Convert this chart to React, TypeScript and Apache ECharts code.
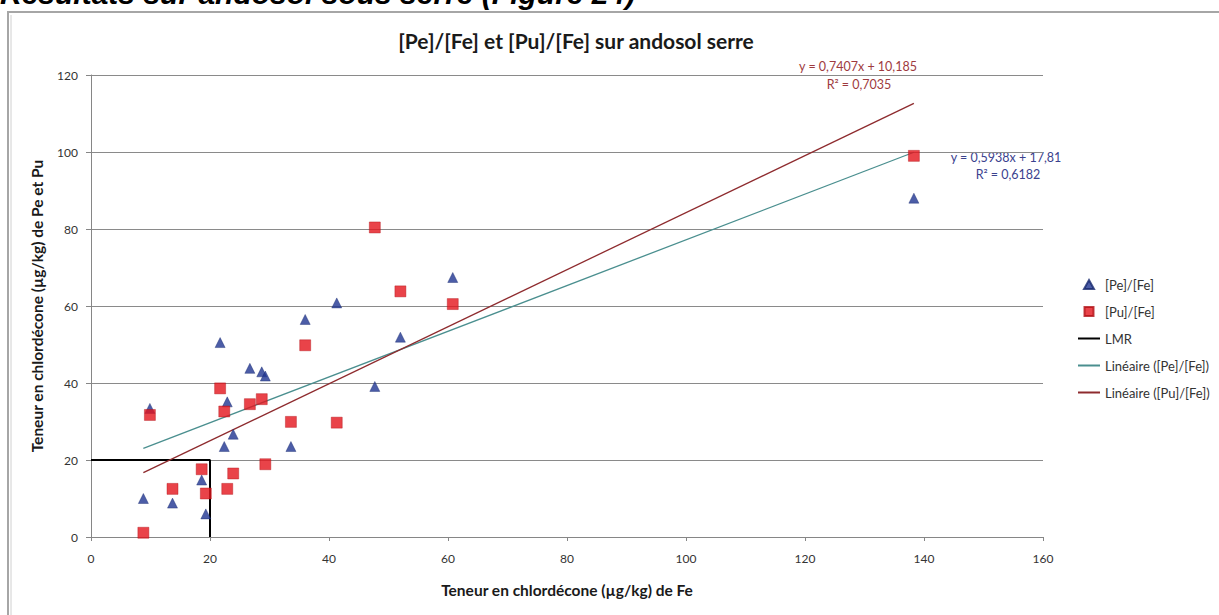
import React, { useEffect, useRef } from "react";
import * as echarts from "echarts";

// Fe content (x) shared by both series
const feValues = [8.8, 9.9, 13.7, 18.6, 19.3, 21.7, 22.4, 22.9, 23.9, 26.7, 28.7, 29.3, 33.6, 36.0, 41.3, 47.7, 52.0, 60.8, 138.3];
// [Pe] values
const peValues = [10.0, 33.4, 8.8, 14.8, 6.0, 50.5, 23.5, 35.1, 26.7, 43.8, 42.9, 41.8, 23.5, 56.5, 60.8, 39.1, 51.9, 67.4, 88.0];
// [Pu] values
const puValues = [1.1, 31.7, 12.5, 17.6, 11.3, 38.6, 32.6, 12.5, 16.5, 34.5, 35.8, 18.9, 29.9, 49.8, 29.7, 80.4, 63.8, 60.5, 99.0];

// LMR limit
const lmrPoints = [[0, 20], [20, 20], [20, 0]];

// Trend line coefficients (from the chart labels)
const peSlope = 0.5938;
const peIntercept = 17.81;
const puSlope = 0.7407;
const puIntercept = 10.185;

const xTicks = [0, 20, 40, 60, 80, 100, 120, 140, 160];
const yTicks = [0, 20, 40, 60, 80, 100, 120];

const titleText = "[Pe]/[Fe] et [Pu]/[Fe] sur andosol serre";
const headingText = "Résultats sur andosol sous serre (Figure 24)";
const xName = "Teneur en chlordécone (µg/kg) de Fe";
const yName = "Teneur en chlordécone (µg/kg) de Pe et Pu";
const peEq = "y = 0,5938x + 17,81";
const peR2 = "R² = 0,6182";
const puEq = "y = 0,7407x + 10,185";
const puR2 = "R² = 0,7035";

const FONT = "Lato, 'Open Sans', sans-serif";

export default function App() {
  const ref = useRef<HTMLDivElement>(null);

  useEffect(() => {
    if (!ref.current) return;
    const chart = echarts.init(ref.current, undefined, { renderer: "svg" });
    const xMin = Math.min(...feValues);
    const xMax = Math.max(...feValues);
    const peData = feValues.map((x, i) => [x, peValues[i]]);
    const puData = feValues.map((x, i) => [x, puValues[i]]);
    const peTrend = [[xMin, peSlope * xMin + peIntercept], [xMax, peSlope * xMax + peIntercept]];
    const puTrend = [[xMin, puSlope * xMin + puIntercept], [xMax, puSlope * xMax + puIntercept]];

    chart.setOption({
      animation: false,
      backgroundColor: "#ffffff",
      textStyle: { fontFamily: FONT },
      grid: { left: 91, right: 176, top: 75, bottom: 78 },
      xAxis: {
        type: "value",
        min: xTicks[0],
        max: xTicks[xTicks.length - 1],
        interval: 20,
        name: xName,
        nameLocation: "middle",
        nameGap: 45,
        nameTextStyle: { fontFamily: FONT, fontSize: 15.5, fontWeight: "bold", color: "#1a1a1a" },
        axisLine: { lineStyle: { color: "#868686", width: 1 } },
        axisTick: { show: true, length: 4, lineStyle: { color: "#868686" } },
        axisLabel: { fontFamily: FONT, fontSize: 12, color: "#333333", margin: 15 },
        splitLine: { show: false },
      },
      yAxis: {
        type: "value",
        min: yTicks[0],
        max: yTicks[yTicks.length - 1],
        interval: 20,
        name: yName,
        nameLocation: "middle",
        nameGap: 46,
        nameRotate: 90,
        nameTextStyle: { fontFamily: FONT, fontSize: 15.5, fontWeight: "bold", color: "#1a1a1a" },
        axisLine: { show: true, lineStyle: { color: "#868686", width: 1 } },
        axisTick: { show: true, length: 5, lineStyle: { color: "#868686" } },
        axisLabel: { fontFamily: FONT, fontSize: 12, color: "#333333", margin: 13 },
        splitLine: { show: true, lineStyle: { color: "#8a8a8a", width: 1 } },
      },
      legend: {
        orient: "vertical",
        left: 1072,
        top: 273,
        itemWidth: 22,
        itemHeight: 9,
        itemGap: 14,
        textStyle: { fontFamily: FONT, fontSize: 13, color: "#333333" },
        data: [
          { name: "[Pe]/[Fe]", icon: "path://M5,0L10,9L0,9Z", itemStyle: { color: "#1f3591" } },
          { name: "[Pu]/[Fe]", icon: "path://M0,0H9V9H0Z", itemStyle: { color: "#e3141c" } },
          { name: "LMR", itemStyle: { opacity: 0 } },
          { name: "Linéaire ([Pe]/[Fe])", itemStyle: { opacity: 0 } },
          { name: "Linéaire ([Pu]/[Fe])", itemStyle: { opacity: 0 } },
        ],
      },
      title: {
        text: titleText,
        left: 571,
        top: 25,
        textAlign: "center",
        textStyle: { fontFamily: FONT, fontSize: 21, fontWeight: "bold", color: "#1a1a1a" },
      },
      graphic: [
        {
          type: "text",
          x: 0,
          y: -7,
          style: {
            text: headingText,
            font: "italic bold 30px 'Liberation Sans', Arial, sans-serif",
            fill: "#000000",
            textVerticalAlign: "middle",
          },
        },
        { type: "rect", shape: { x: 8, y: 12, width: 1300, height: 700 }, style: { fill: "none", stroke: "#a6a6a6", lineWidth: 2 } },
        { type: "line", shape: { x1: 11, y1: 15, x2: 11, y2: 620 }, style: { stroke: "#d0d0d0", lineWidth: 1 } },
        { type: "text", x: 858, y: 66, style: { text: puEq, font: `12.5px ${FONT}`, fill: "#9e3a3e", textAlign: "center", textVerticalAlign: "middle" } },
        { type: "text", x: 859, y: 84, style: { text: puR2, font: `12.5px ${FONT}`, fill: "#9e3a3e", textAlign: "center", textVerticalAlign: "middle" } },
        { type: "text", x: 1006, y: 157, style: { text: peEq, font: `12.5px ${FONT}`, fill: "#3b428e", textAlign: "center", textVerticalAlign: "middle" } },
        { type: "text", x: 1008, y: 174, style: { text: peR2, font: `12.5px ${FONT}`, fill: "#3b428e", textAlign: "center", textVerticalAlign: "middle" } },
      ],
      series: [
        {
          name: "LMR",
          type: "line",
          data: lmrPoints,
          symbol: "none",
          lineStyle: { color: "#000000", width: 2 },
          itemStyle: { color: "#000000" },
          z: 3,
        },
        {
          name: "Linéaire ([Pe]/[Fe])",
          type: "line",
          data: peTrend,
          symbol: "none",
          lineStyle: { color: "#4a8f8f", width: 1.3 },
          itemStyle: { color: "#4a8f8f" },
          z: 3,
        },
        {
          name: "Linéaire ([Pu]/[Fe])",
          type: "line",
          data: puTrend,
          symbol: "none",
          lineStyle: { color: "#8e2b2e", width: 1.3 },
          itemStyle: { color: "#8e2b2e" },
          z: 3,
        },
        {
          name: "[Pe]/[Fe]",
          type: "scatter",
          data: peData,
          symbol: "triangle",
          symbolSize: 10,
          itemStyle: { color: "#1f3591", borderColor: "#16286e", borderWidth: 0.5 },
          z: 4,
        },
        {
          name: "[Pu]/[Fe]",
          type: "scatter",
          data: puData,
          symbol: "rect",
          symbolSize: 11,
          itemStyle: { color: "#e3141c", borderColor: "#b01015", borderWidth: 0.5 },
          z: 5,
        },
      ],
    });
    return () => chart.dispose();
  }, []);

  return (
    <div
      ref={ref}
      style={{ position: "absolute", left: 0, top: 0, width: 1219, height: 615 }}
    />
  );
}
